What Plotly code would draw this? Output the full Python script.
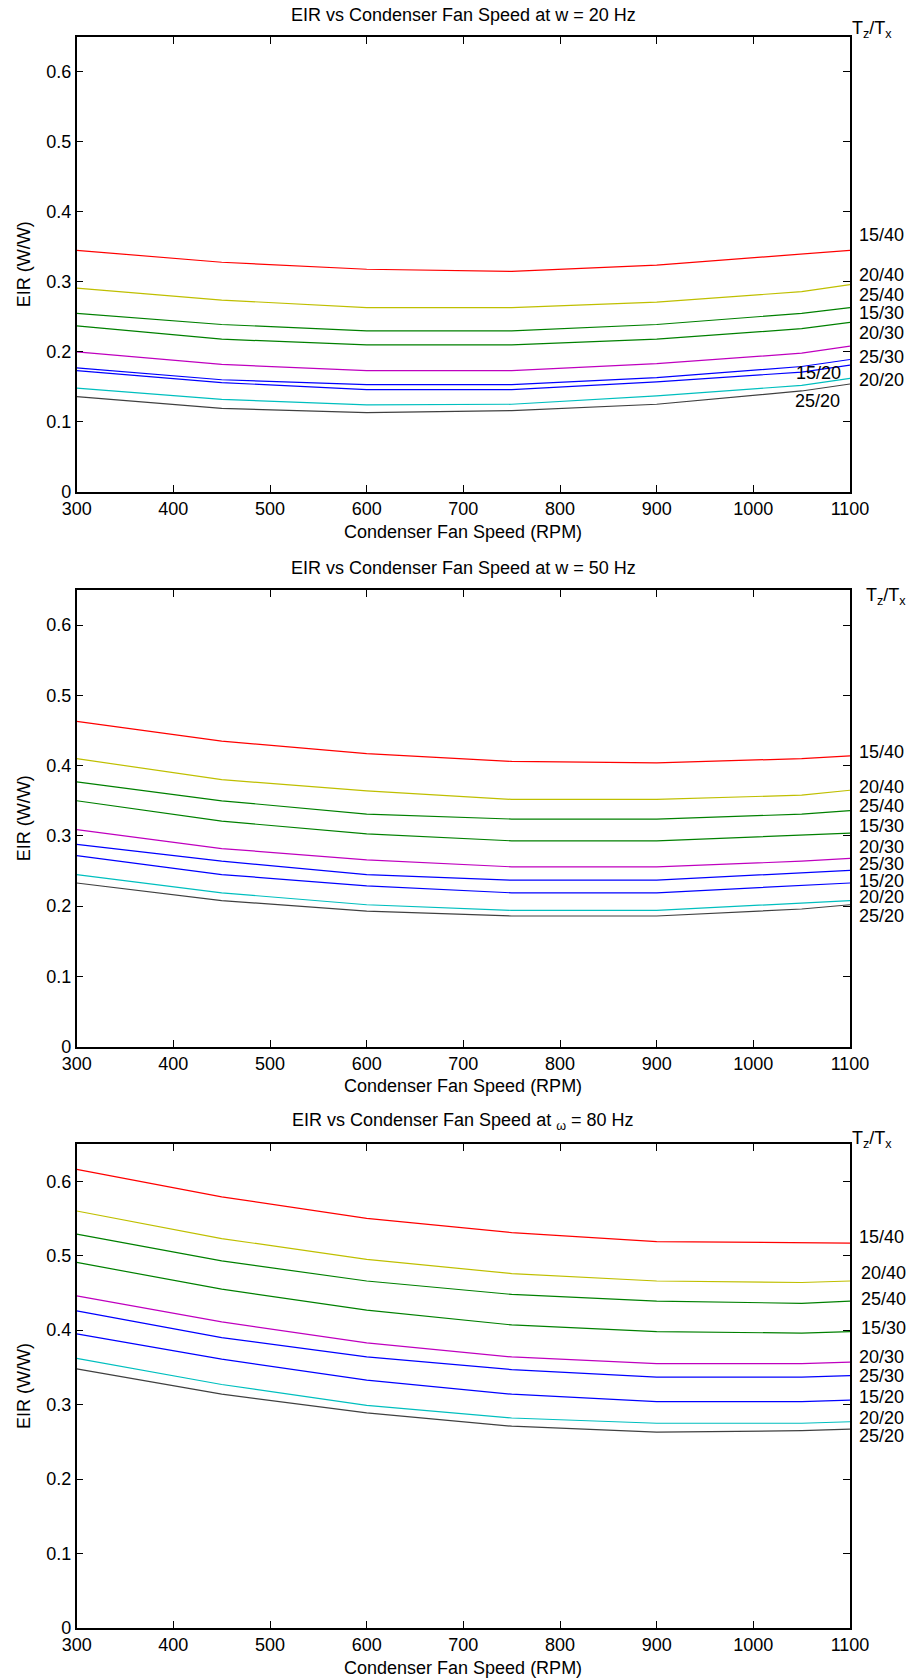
import plotly.graph_objects as go

W, H = 908, 1679

fan_speed = [300, 450, 600, 750, 900, 1050, 1100]
labels = ["15/40", "20/40", "25/40", "15/30", "20/30", "25/30", "15/20", "20/20", "25/20"]
colors = ["#FF0000", "#BFBF00", "#008000", "#008000", "#BF00BF",
          "#0000FF", "#0000FF", "#00BFBF", "#404040"]

eir_20hz = [
    [0.345, 0.328, 0.318, 0.315, 0.324, 0.339, 0.345],
    [0.291, 0.274, 0.263, 0.263, 0.271, 0.286, 0.296],
    [0.255, 0.239, 0.230, 0.230, 0.239, 0.255, 0.263],
    [0.237, 0.218, 0.210, 0.210, 0.218, 0.233, 0.242],
    [0.200, 0.182, 0.173, 0.173, 0.183, 0.198, 0.208],
    [0.177, 0.160, 0.153, 0.153, 0.163, 0.179, 0.189],
    [0.173, 0.156, 0.146, 0.146, 0.157, 0.171, 0.181],
    [0.148, 0.132, 0.124, 0.125, 0.137, 0.152, 0.162],
    [0.136, 0.119, 0.113, 0.116, 0.125, 0.144, 0.154],
]
eir_50hz = [
    [0.463, 0.435, 0.417, 0.406, 0.404, 0.410, 0.414],
    [0.410, 0.380, 0.364, 0.352, 0.352, 0.358, 0.365],
    [0.377, 0.350, 0.331, 0.324, 0.324, 0.331, 0.336],
    [0.350, 0.321, 0.303, 0.293, 0.293, 0.301, 0.304],
    [0.309, 0.282, 0.266, 0.256, 0.256, 0.264, 0.268],
    [0.288, 0.264, 0.245, 0.237, 0.237, 0.247, 0.251],
    [0.272, 0.245, 0.229, 0.219, 0.219, 0.229, 0.233],
    [0.245, 0.219, 0.202, 0.194, 0.194, 0.204, 0.208],
    [0.233, 0.208, 0.193, 0.186, 0.186, 0.196, 0.202],
]
eir_80hz = [
    [0.616, 0.579, 0.550, 0.531, 0.519, 0.517, 0.517],
    [0.560, 0.523, 0.495, 0.476, 0.466, 0.464, 0.466],
    [0.529, 0.493, 0.466, 0.448, 0.439, 0.436, 0.439],
    [0.491, 0.455, 0.427, 0.407, 0.398, 0.396, 0.398],
    [0.446, 0.411, 0.383, 0.364, 0.355, 0.355, 0.357],
    [0.426, 0.390, 0.364, 0.347, 0.337, 0.337, 0.339],
    [0.395, 0.361, 0.333, 0.314, 0.304, 0.304, 0.306],
    [0.362, 0.327, 0.299, 0.282, 0.275, 0.275, 0.277],
    [0.348, 0.314, 0.289, 0.271, 0.263, 0.265, 0.267],
]

titles = [
    "EIR vs Condenser Fan Speed at w = 20 Hz",
    "EIR vs Condenser Fan Speed at w = 50 Hz",
    "EIR vs Condenser Fan Speed at <sub>ω</sub> = 80 Hz",
]
x_title = "Condenser Fan Speed (RPM)"
y_title = "EIR (W/W)"
x_ticks = [300, 400, 500, 600, 700, 800, 900, 1000, 1100]
y_ticks = [0, 0.1, 0.2, 0.3, 0.4, 0.5, 0.6]
y_ticktext = ["0", "0.1", "0.2", "0.3", "0.4", "0.5", "0.6"]

panels = [eir_20hz, eir_50hz, eir_80hz]

# ---- layout geometry (pixels) ----
plot_left, plot_right = 76.7, 850.0
plot_tops = [37.0, 590.0, 1144.0]
plot_bottoms = [491.7, 1046.7, 1628.0]
title_y = [15.0, 568.0, 1121.7]
xlabel_y = [532.0, 1086.0, 1668.0]
tz_pos = [(850, 30), (864, 596), (850, 1139)]
label_pos = [
    [(857, 235), (857, 275), (857, 295), (857, 313), (857, 333), (857, 357),
     (794, 373), (857, 380), (793, 401)],
    [(857, 752), (857, 787), (857, 806), (857, 826), (857, 847), (857, 864),
     (857, 881), (857, 897), (857, 916)],
    [(857, 1237), (859, 1273), (859, 1299), (859, 1328), (857, 1357), (857, 1376),
     (857, 1397), (857, 1418), (857, 1436)],
]

FONT = "Liberation Sans, Arial, Helvetica, sans-serif"
FS = 18


def px(x):
    return x / W


def py(y):
    return 1 - y / H


fig = go.Figure()
annotations = []

for p, data in enumerate(panels):
    xa = "x" if p == 0 else f"x{p+1}"
    ya = "y" if p == 0 else f"y{p+1}"
    for i, series in enumerate(data):
        fig.add_trace(go.Scatter(
            x=fan_speed, y=series, mode="lines",
            line=dict(color=colors[i], width=1.2),
            xaxis=xa, yaxis=ya, showlegend=False, hoverinfo="skip",
        ))
    axis_common = dict(
        showline=True, linecolor="black", linewidth=1.5, mirror="allticks",
        ticks="inside", ticklen=7, tickwidth=1, tickcolor="black",
        showgrid=False, zeroline=False, automargin=False,
        tickfont=dict(family=FONT, size=FS, color="black"),
    )
    xkey = "xaxis" if p == 0 else f"xaxis{p+1}"
    ykey = "yaxis" if p == 0 else f"yaxis{p+1}"
    fig.update_layout(**{
        xkey: dict(axis_common, domain=[px(plot_left), px(plot_right)],
                   range=[300, 1100], tickvals=x_ticks, anchor=ya),
        ykey: dict(axis_common, domain=[py(plot_bottoms[p]), py(plot_tops[p])],
                   range=[0, 0.65], tickvals=y_ticks, ticktext=y_ticktext,
                   anchor=xa),
    })
    annotations.append(dict(
        text=titles[p], x=px((plot_left + plot_right) / 2), y=py(title_y[p]),
        xref="paper", yref="paper", xanchor="center", yanchor="middle",
        showarrow=False, font=dict(family=FONT, size=18, color="black")))
    annotations.append(dict(
        text=x_title, x=px((plot_left + plot_right) / 2), y=py(xlabel_y[p]),
        xref="paper", yref="paper", xanchor="center", yanchor="middle",
        showarrow=False, font=dict(family=FONT, size=18, color="black")))
    annotations.append(dict(
        text=y_title, x=px(24), y=py((plot_tops[p] + plot_bottoms[p]) / 2),
        xref="paper", yref="paper", xanchor="center", yanchor="middle",
        textangle=-90, showarrow=False,
        font=dict(family=FONT, size=18, color="black")))
    annotations.append(dict(
        text="T<sub>z</sub>/T<sub>x</sub>", x=px(tz_pos[p][0]), y=py(tz_pos[p][1]),
        xref="paper", yref="paper", xanchor="left", yanchor="middle",
        showarrow=False, font=dict(family=FONT, size=18, color="black")))
    for i, lab in enumerate(labels):
        lx, ly = label_pos[p][i]
        annotations.append(dict(
            text=lab, x=px(lx), y=py(ly), xref="paper", yref="paper",
            xanchor="left", yanchor="middle", showarrow=False,
            font=dict(family=FONT, size=FS, color="black")))

fig.update_layout(
    width=W, height=H, margin=dict(l=0, r=0, t=0, b=0),
    paper_bgcolor="white", plot_bgcolor="white",
    annotations=annotations,
)

fig.write_html("out.html")
